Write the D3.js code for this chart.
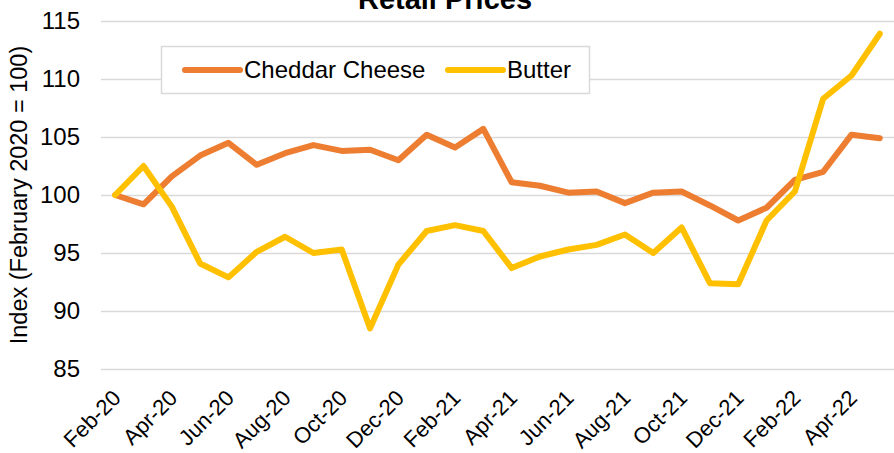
<!DOCTYPE html>
<html>
<head>
<meta charset="utf-8">
<script src="https://cdn.jsdelivr.net/npm/d3@7"></script>
<style>
  body { margin: 0; background: #fff; }
  svg { font-family: "Liberation Sans", Arial, sans-serif; display: block; }
</style>
</head>
<body>
<div id="chart"></div>
<script>
"use strict";

// months, Feb-20 .. May-22
const months = [
  "Feb-20", "Mar-20", "Apr-20", "May-20", "Jun-20", "Jul-20", "Aug-20",
  "Sep-20", "Oct-20", "Nov-20", "Dec-20", "Jan-21", "Feb-21", "Mar-21",
  "Apr-21", "May-21", "Jun-21", "Jul-21", "Aug-21", "Sep-21", "Oct-21",
  "Nov-21", "Dec-21", "Jan-22", "Feb-22", "Mar-22", "Apr-22", "May-22"
];

const cheddar = [
  100, 99.2, 101.6, 103.4, 104.5, 102.6, 103.6, 104.3, 103.8, 103.9,
  103.0, 105.2, 104.1, 105.7, 101.1, 100.8, 100.2, 100.3, 99.3, 100.2,
  100.3, 99.1, 97.8, 98.9, 101.3, 102.0, 105.2, 104.9
];

const butter = [
  100, 102.5, 99.0, 94.1, 92.9, 95.1, 96.4, 95.0, 95.3, 88.5,
  94.0, 96.9, 97.4, 96.9, 93.7, 94.7, 95.3, 95.7, 96.6, 95.0,
  97.2, 92.4, 92.3, 97.8, 100.3, 108.3, 110.3, 113.9
];

const yTicks = [85, 90, 95, 100, 105, 110, 115];

const seriesNames = ["Cheddar Cheese", "Butter"];
const seriesColors = ["#ED7D31", "#FFC000"];

const drawChart = () => {
  const width = 894, height = 453;
  const margin = { top: 21, right: 0, bottom: 84, left: 101 };

  const svg = d3.select("#chart")
    .append("svg")
    .attr("width", width)
    .attr("height", height);

  ///////////////////////////
  // scales
  ///////////////////////////
  const x = d3.scalePoint()
    .domain(months)
    .range([margin.left, width - margin.right])
    .padding(0.5);

  const y = d3.scaleLinear()
    .domain([85, 115])
    .range([height - margin.bottom, margin.top]);

  ///////////////////////////
  // gridlines + y axis
  ///////////////////////////
  const yAxis = d3.axisLeft(y)
    .tickValues(yTicks)
    .tickSize(-(width - margin.left - margin.right))
    .tickPadding(21);

  svg.append("g")
    .attr("transform", `translate(${margin.left},0)`)
    .call(yAxis)
    .call((g) => g.select(".domain").remove())
    .call((g) => g.selectAll(".tick line")
      .attr("stroke", "#d9d9d9")
      .attr("stroke-width", 1.5))
    .call((g) => g.selectAll(".tick text")
      .attr("font-size", "24px")
      .attr("fill", "#000")
      .attr("font-family", "Liberation Sans, Arial, sans-serif"));

  svg.append("text")
    .attr("transform", `translate(27,${(margin.top + height - margin.bottom) / 2}) rotate(-90)`)
    .attr("text-anchor", "middle")
    .attr("font-size", "23.5px")
    .text("Index (February 2020 = 100)");

  ///////////////////////////
  // x axis (labels every other month)
  ///////////////////////////
  const xAxis = d3.axisBottom(x)
    .tickValues(months.filter((d, i) => i % 2 === 0))
    .tickSize(0)
    .tickPadding(0);

  svg.append("g")
    .attr("transform", `translate(0,${height - margin.bottom})`)
    .call(xAxis)
    .call((g) => g.select(".domain").remove())
    .call((g) => g.selectAll(".tick text")
      .attr("font-size", "22px")
      .attr("fill", "#000")
      .attr("font-family", "Liberation Sans, Arial, sans-serif")
      .attr("text-anchor", "end")
      .attr("dy", "0.35em")
      .attr("transform", "translate(1,25) rotate(-45)"));

  ///////////////////////////
  // lines
  ///////////////////////////
  const line = d3.line()
    .x((d, i) => x(months[i]))
    .y((d) => y(d));

  [cheddar, butter].forEach((vals, k) => {
    svg.append("path")
      .datum(vals)
      .attr("fill", "none")
      .attr("stroke", seriesColors[k])
      .attr("stroke-width", 6)
      .attr("stroke-linejoin", "round")
      .attr("stroke-linecap", "round")
      .attr("d", line);
  });

  ///////////////////////////
  // title (clipped at top like the source)
  ///////////////////////////
  svg.append("text")
    .attr("x", 445)
    .attr("y", 9)
    .attr("text-anchor", "middle")
    .attr("font-size", "29px")
    .attr("font-weight", "bold")
    .text("Retail Prices");

  ///////////////////////////
  // legend
  ///////////////////////////
  const legend = svg.append("g");
  legend.append("rect")
    .attr("x", 161.5)
    .attr("y", 46.5)
    .attr("width", 428)
    .attr("height", 47)
    .attr("fill", "#fff")
    .attr("stroke", "#d9d9d9")
    .attr("stroke-width", 1.5);

  const legX = [185, 448];
  seriesNames.forEach((name, k) => {
    legend.append("line")
      .attr("x1", legX[k])
      .attr("x2", legX[k] + 55)
      .attr("y1", 70)
      .attr("y2", 70)
      .attr("stroke", seriesColors[k])
      .attr("stroke-width", 6)
      .attr("stroke-linecap", "round");
    legend.append("text")
      .attr("x", legX[k] + 59)
      .attr("y", 70)
      .attr("dy", "0.35em")
      .attr("font-size", "24px")
      .text(name);
  });
};

drawChart();
</script>
</body>
</html>
